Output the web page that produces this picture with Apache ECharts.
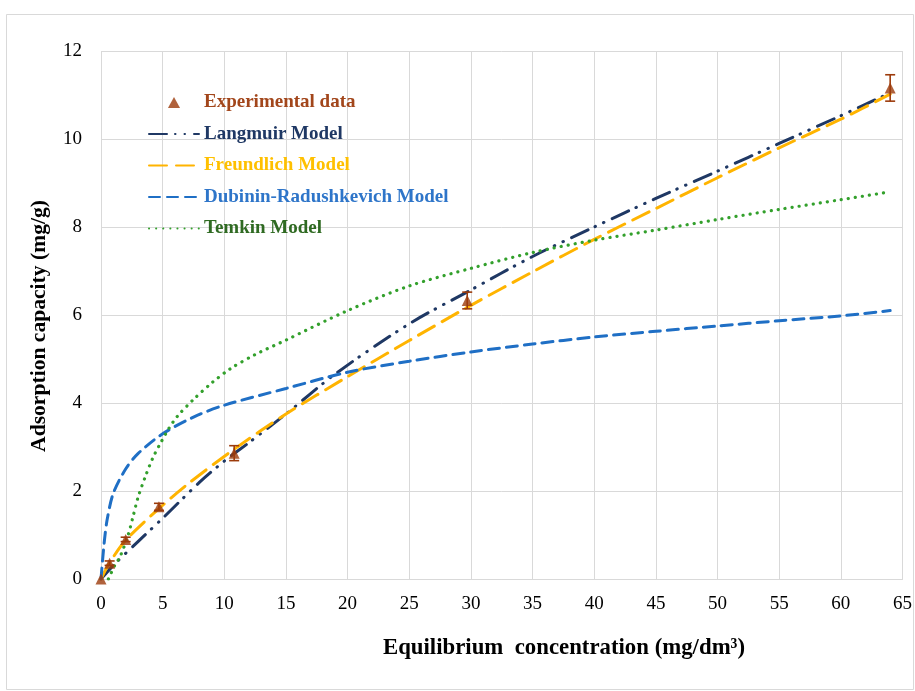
<!DOCTYPE html>
<html>
<head>
<meta charset="utf-8">
<script src="https://cdn.jsdelivr.net/npm/echarts@6/dist/echarts.min.js"></script>
<style>
  html, body { margin: 0; padding: 0; background: #fff; }
  #chart { width: 915px; height: 691px; }
</style>
</head>
<body>
<div id="chart"></div>
<script>
// Experimental isotherm points (C in mg/dm3, q in mg/g) with error half-widths
const expC = [0, 0.7, 2, 4.7, 10.8, 29.7, 64];
const expQ = [0, 0.36, 0.9, 1.64, 2.86, 6.33, 11.16];
const expErr = [0, 0.05, 0.05, 0.08, 0.17, 0.19, 0.3];

// Langmuir model curve
const langC = [0, 1, 3, 5, 8, 10, 12, 15, 19, 25, 30, 35, 40, 45, 50, 55, 60, 64];
const langQ = [0, 0.31, 0.85, 1.38, 2.2, 2.68, 3.1, 3.75, 4.66, 5.8, 6.57, 7.33, 8.0, 8.65, 9.27, 9.9, 10.53, 11.05];

// Freundlich model curve
const freC = [0, 0.7, 2, 4.7, 7, 10.8, 15, 20, 25, 30, 35, 40, 45, 50, 55, 60, 64];
const freQ = [0, 0.37, 0.88, 1.6, 2.15, 2.95, 3.75, 4.6, 5.42, 6.22, 6.98, 7.72, 8.42, 9.12, 9.8, 10.45, 11.02];

// Dubinin-Radushkevich model curve
const drC = [0, 0.25, 0.5, 1, 2, 3, 5, 7.5, 10, 15, 20, 25, 30, 35, 40, 45, 50, 55, 60, 64];
const drQ = [0, 0.8, 1.35, 1.95, 2.5, 2.85, 3.3, 3.68, 3.95, 4.33, 4.7, 4.95, 5.16, 5.34, 5.5, 5.63, 5.75, 5.87, 5.98, 6.1];

// Temkin model curve
const temC = [0.6, 1.1, 1.55, 2.2, 2.6, 3.0, 3.6, 4.2, 4.85, 5.5, 6.2, 7.5, 9, 10.5, 12.5, 15, 20, 25, 30, 35, 40, 45, 50, 55, 60, 64];
const temQ = [0, 0.3, 0.51, 1.0, 1.42, 1.85, 2.33, 2.75, 3.1, 3.42, 3.7, 4.08, 4.46, 4.78, 5.1, 5.43, 6.1, 6.66, 7.06, 7.42, 7.7, 7.93, 8.17, 8.4, 8.62, 8.8];

// Axis ticks and titles
const xTicks = [0, 5, 10, 15, 20, 25, 30, 35, 40, 45, 50, 55, 60, 65];
const yTicks = [0, 2, 4, 6, 8, 10, 12];
const xTitle = 'Equilibrium  concentration (mg/dm³)';
const yTitle = 'Adsorption capacity (mg/g)';

const serif = '"Liberation Serif", "DejaVu Serif", serif';
const zip = (a, b) => a.map((v, i) => [v, b[i]]);
const hiddenSymbol = { opacity: 0 };

const chart = echarts.init(document.getElementById('chart'), null, { renderer: 'canvas' });

const option = {
  backgroundColor: '#ffffff',
  animation: false,
  graphic: [
    {
      type: 'rect',
      shape: { x: 6.5, y: 14.5, width: 907, height: 675 },
      style: { fill: 'none', stroke: '#d9d9d9', lineWidth: 1 },
      silent: true
    },
    {
      type: 'text',
      x: 564, y: 648,
      style: {
        text: xTitle, fill: '#000',
        font: 'bold 22.8px ' + serif,
        textAlign: 'center', textVerticalAlign: 'middle',
        align: 'center', verticalAlign: 'middle'
      },
      silent: true
    },
    {
      type: 'text',
      x: 39, y: 326,
      rotation: Math.PI / 2,
      style: {
        text: yTitle, fill: '#000',
        font: 'bold 21.6px ' + serif,
        textAlign: 'center', textVerticalAlign: 'middle',
        align: 'center', verticalAlign: 'middle'
      },
      silent: true
    }
  ],
  grid: { left: 101, right: 10, top: 51, bottom: 112, show: false },
  xAxis: {
    type: 'value',
    min: xTicks[0],
    max: xTicks[xTicks.length - 1],
    interval: xTicks[1] - xTicks[0],
    axisLine: { show: true, lineStyle: { color: '#d9d9d9', width: 1 } },
    axisTick: { show: false },
    axisLabel: { fontFamily: serif, fontSize: 19, color: '#000', margin: 16 },
    splitLine: { show: true, lineStyle: { color: '#d9d9d9', width: 1 } }
  },
  yAxis: {
    type: 'value',
    min: yTicks[0],
    max: yTicks[yTicks.length - 1],
    interval: yTicks[1] - yTicks[0],
    axisLine: { show: false },
    axisTick: { show: false },
    axisLabel: { fontFamily: serif, fontSize: 19, color: '#000', margin: 19 },
    splitLine: { show: true, lineStyle: { color: '#d9d9d9', width: 1 } }
  },
  legend: {
    orient: 'vertical',
    left: 143,
    top: 88,
    itemWidth: 50,
    itemHeight: 11,
    itemGap: 12.5,
    textStyle: { fontFamily: serif, fontWeight: 'bold', fontSize: 19, lineHeight: 19 },
    data: [
      { name: 'Experimental data', icon: 'path://M0,-10 L11,10 L-11,10 Z', textStyle: { color: '#A2461B' } },
      { name: 'Langmuir Model', itemStyle: hiddenSymbol, textStyle: { color: '#1F3864' } },
      { name: 'Freundlich Model', itemStyle: hiddenSymbol, textStyle: { color: '#FFC000' } },
      { name: 'Dubinin-Radushkevich Model', itemStyle: hiddenSymbol, textStyle: { color: '#2E75C9' } },
      { name: 'Temkin Model', itemStyle: hiddenSymbol, textStyle: { color: '#2F6A22' } }
    ]
  },
  series: [
    {
      name: 'Langmuir Model',
      type: 'line',
      data: zip(langC, langQ),
      smooth: 0.3,
      symbol: 'none',
      lineStyle: { color: '#1F3864', width: 3, type: [18, 8, 0.5, 9, 0.5, 9], cap: 'round' },
      itemStyle: { color: '#1F3864' },
      z: 2
    },
    {
      name: 'Freundlich Model',
      type: 'line',
      data: zip(freC, freQ),
      smooth: 0.3,
      symbol: 'none',
      lineStyle: { color: '#FFB400', width: 3, type: [18, 9], cap: 'round' },
      itemStyle: { color: '#FFB400' },
      z: 3
    },
    {
      name: 'Dubinin-Radushkevich Model',
      type: 'line',
      data: zip(drC, drQ),
      smooth: 0.3,
      symbol: 'none',
      lineStyle: { color: '#1F6FC5', width: 3, type: [11, 7], cap: 'round' },
      itemStyle: { color: '#1F6FC5' },
      z: 3
    },
    {
      name: 'Temkin Model',
      type: 'line',
      data: zip(temC, temQ),
      smooth: 0.3,
      symbol: 'none',
      lineStyle: { color: '#33A02C', width: 3.2, type: [0.1, 7], cap: 'round' },
      itemStyle: { color: '#33A02C' },
      z: 3
    },
    {
      name: 'errorBars',
      type: 'custom',
      data: expC.map((c, i) => [c, expQ[i], expErr[i]]),
      renderItem: function (params, api) {
        const x = api.value(0), y = api.value(1), e = api.value(2);
        if (!e) return null;
        const top = api.coord([x, y + e]);
        const bot = api.coord([x, y - e]);
        const half = 5;
        const st = { stroke: '#9C3B0B', lineWidth: 1.6 };
        return {
          type: 'group',
          children: [
            { type: 'line', shape: { x1: top[0], y1: top[1], x2: bot[0], y2: bot[1] }, style: st },
            { type: 'line', shape: { x1: top[0] - half, y1: top[1], x2: top[0] + half, y2: top[1] }, style: st },
            { type: 'line', shape: { x1: bot[0] - half, y1: bot[1], x2: bot[0] + half, y2: bot[1] }, style: st }
          ]
        };
      },
      z: 5
    },
    {
      name: 'Experimental data',
      type: 'scatter',
      data: zip(expC, expQ),
      symbol: 'triangle',
      symbolSize: 11,
      itemStyle: { color: '#9C3B0B' },
      z: 6
    }
  ]
};

chart.setOption(option);
</script>
</body>
</html>
